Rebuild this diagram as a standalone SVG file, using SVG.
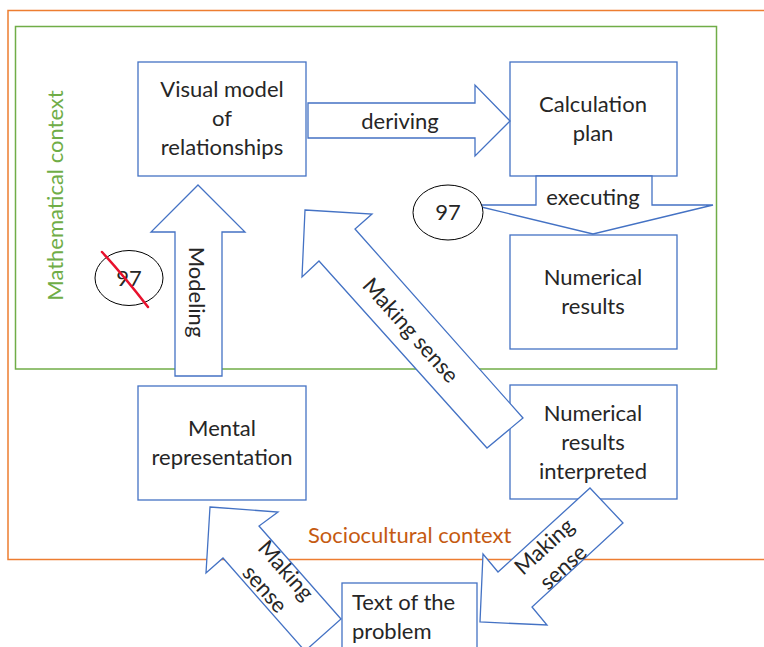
<svg xmlns="http://www.w3.org/2000/svg" width="764" height="647" viewBox="0 0 764 647">
  <style>
    .frame-socio { fill: none; stroke: #ED7D31; stroke-width: 1.5; }
    .frame-math { fill: none; stroke: #70AD47; stroke-width: 1.5; }
    .box { fill: #FFFFFF; stroke: #4472C4; stroke-width: 1.3; }
    .arrow { fill: #FFFFFF; stroke: #4472C4; stroke-width: 1.3; stroke-linejoin: miter; }
    .mark { fill: #FFFFFF; stroke: #000000; stroke-width: 1; }
    .strike { fill: none; stroke: #E8112D; stroke-width: 2.5; stroke-linecap: round; }
    text { font-family: Lato, "Open Sans", "Liberation Sans", sans-serif; font-size: 22px; fill: #262626; }
    .c { text-anchor: middle; }
    .socio-label { fill: #C55A11; }
    .math-label { fill: #70AD47; }
  </style>

  <!-- context frames -->
  <g id="sociocultural-context">
    <rect class="frame-socio" x="8" y="10.5" width="800" height="549"/>
    <text class="socio-label" x="308" y="543">Sociocultural context</text>
  </g>
  <g id="mathematical-context">
    <rect class="frame-math" x="15.5" y="26.5" width="701" height="342.5"/>
    <text class="math-label c" transform="translate(63,195.5) rotate(-90)" x="0" y="0">Mathematical context</text>
  </g>

  <!-- nodes -->
  <g id="visual-model">
    <rect class="box" x="138" y="62" width="168" height="114"/>
    <text class="c" x="222" y="97">Visual model</text>
    <text class="c" x="222" y="126">of</text>
    <text class="c" x="222" y="155">relationships</text>
  </g>
  <g id="calculation-plan">
    <rect class="box" x="510" y="62" width="167" height="114"/>
    <text class="c" x="593" y="112">Calculation</text>
    <text class="c" x="593" y="141">plan</text>
  </g>
  <g id="numerical-results">
    <rect class="box" x="510" y="235" width="167" height="114"/>
    <text class="c" x="593" y="285">Numerical</text>
    <text class="c" x="593" y="314">results</text>
  </g>
  <g id="numerical-results-interpreted">
    <rect class="box" x="510" y="385" width="167" height="114"/>
    <text class="c" x="593" y="421">Numerical</text>
    <text class="c" x="593" y="450">results</text>
    <text class="c" x="593" y="479">interpreted</text>
  </g>
  <g id="mental-representation">
    <rect class="box" x="138" y="386" width="168" height="114"/>
    <text class="c" x="222" y="436">Mental</text>
    <text class="c" x="222" y="465">representation</text>
  </g>
  <g id="text-of-the-problem">
    <rect class="box" x="342" y="583" width="135" height="80"/>
    <text x="352" y="610">Text of the</text>
    <text x="352" y="639">problem</text>
  </g>

  <!-- block arrows -->
  <g id="connectors">
    <g id="deriving">
      <polygon class="arrow" points="308,103 475,103 475,85 510,121 475,156 475,138 308,138"/>
      <text class="c" x="400" y="129">deriving</text>
    </g>
    <g id="executing">
      <polygon class="arrow" points="536,176 652,176 652,205 713,205 593,234 473,205 536,205"/>
      <text class="c" x="593" y="205">executing</text>
    </g>
    <g id="modeling">
      <polygon class="arrow" points="198,185 245,232 222,232 222,376 175,376 175,232 151,232"/>
      <text class="c" transform="translate(189,292) rotate(90)" x="0" y="0">Modeling</text>
    </g>
    <g id="making-sense-up">
      <polygon class="arrow" points="305,210 372,214 355,229 523,418 487,448 319,261 302,277"/>
      <text class="c" transform="translate(411,330) rotate(48.2)" x="0" y="8">Making sense</text>
    </g>
    <g id="making-sense-from-text">
      <polygon class="arrow" points="210,507 278,512 259,526 341,619 305,651 223,558 206,573"/>
      <text class="c" transform="translate(275,580) rotate(48.6)" x="0" y="-7">Making</text>
      <text class="c" transform="translate(275,580) rotate(48.6)" x="0" y="21">sense</text>
    </g>
    <g id="making-sense-to-text">
      <polygon class="arrow" points="590,488 623,523 532,607 547,625 480,622 483,554 498,572"/>
      <text class="c" transform="translate(552,555) rotate(-42.4)" x="0" y="-4">Making</text>
      <text class="c" transform="translate(552,555) rotate(-42.4)" x="0" y="24">sense</text>
    </g>
  </g>

  <!-- page markers -->
  <g id="marker-97">
    <ellipse class="mark" cx="448" cy="212.5" rx="35" ry="27.5"/>
    <text class="c" x="448" y="220">97</text>
  </g>
  <g id="marker-97-struck">
    <ellipse class="mark" cx="129" cy="278" rx="34" ry="27.5"/>
    <text class="c" x="129" y="286">97</text>
    <path class="strike" d="M102,252 Q124,276 148,307"/>
  </g>
</svg>
